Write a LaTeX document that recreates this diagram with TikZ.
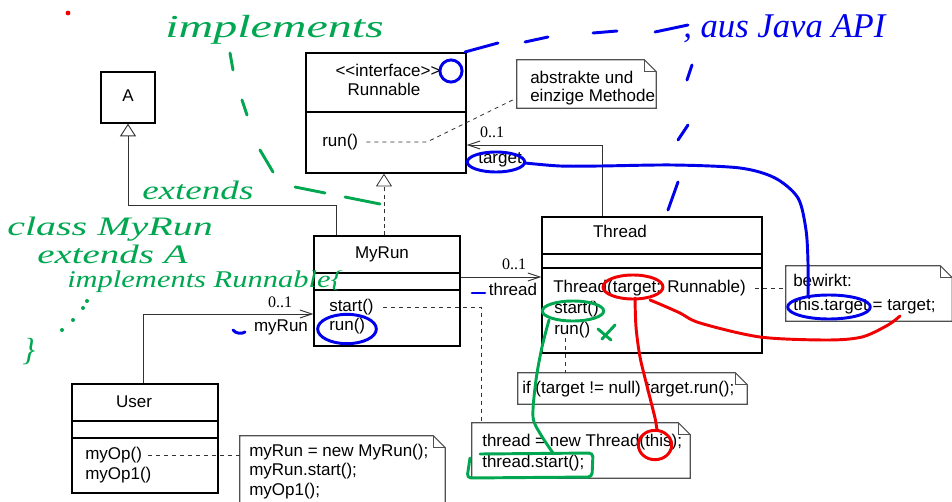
\documentclass[tikz,border=0pt]{standalone}
\usepackage{fontspec}
\setmainfont{Liberation Sans}
\newfontfamily\numfont{Liberation Serif}
\newfontfamily\handfont{Liberation Serif}
\usetikzlibrary{fit,arrows.meta,calc}
\definecolor{penGreen}{RGB}{0,166,80}
\definecolor{penBlue}{RGB}{0,0,235}
\definecolor{penRed}{RGB}{240,0,0}
\definecolor{umlLine}{RGB}{50,50,50}
\definecolor{noteLine}{RGB}{80,80,80}

% note with a folded corner, drawn around a fitted node
\newcommand{\notefold}[1]{%
  \draw[noteframe] (#1.north west) -- ([xshift=-9pt]#1.north east)
    -- ([yshift=-9pt]#1.north east) -- (#1.south east) -- (#1.south west) -- cycle;
  \draw[noteframe] ([xshift=-9pt]#1.north east) |- ([yshift=-9pt]#1.north east);}

\begin{document}
\begin{tikzpicture}[x=0.75pt,y=-0.75pt,
  every node/.style={inner sep=0pt},
  cls/.style={draw=black, line width=1pt, fill=white},
  divider/.style={draw=black, line width=1pt},
  ghost/.style={draw=none},
  noteframe/.style={draw=noteLine, line width=0.8pt},
  lbl/.style={font=\fontsize{12.75}{15}\selectfont, text height=9.2pt, text depth=2.7pt},
  mult/.style={font=\numfont\fontsize{12}{14}\selectfont},
  assoc/.style={draw=umlLine, line width=0.7pt, -{Straight Barb[length=9pt,width=6pt]}},
  inherit/.style={draw=umlLine, line width=0.7pt, -{Triangle[open,length=9.5pt,width=12pt]}},
  dashline/.style={draw=umlLine, line width=0.6pt, dash pattern=on 3pt off 3pt},
  pen/.style={line width=2.2pt, line cap=round, line join=round},
  hw/.style={font=\handfont\itshape, anchor=base west},
]
\useasboundingbox (0,0) rectangle (952,502);
\clip (0,0) rectangle (952,502);

% ---------- classes ----------
\coordinate (a1) at (101,72);  \coordinate (a2) at (155,123);
\node[cls, fit=(a1)(a2)] (A) {};
\node[lbl] (Aname) at (A.center) {A};

\coordinate (r1) at (306,53);  \coordinate (r2) at (466,173);
\node[cls, fit=(r1)(r2)] (Run) {};
\draw[divider] (Run.west |- 0,112) -- (Run.east |- 0,112);
\node[lbl] (stereo) at (388,72) {{<}{<}interface{>}{>}};
\node[lbl] (runname) at (384,91) {Runnable};
\node[lbl, anchor=west] (runR) at (322,142) {run()};

\coordinate (m1) at (314,236); \coordinate (m2) at (460,346);
\node[cls, fit=(m1)(m2)] (MyRun) {};
\draw[divider] (MyRun.west |- 0,273) -- (MyRun.east |- 0,273);
\draw[divider] (MyRun.west |- 0,290) -- (MyRun.east |- 0,290);
\node[lbl] (myrunname) at (382,254) {MyRun};
\node[lbl, anchor=west] (mstart) at (329,307) {start()};
\node[lbl, anchor=west] (mrun) at (329,326) {run()};

\coordinate (u1) at (72,384);  \coordinate (u2) at (218,493);
\node[cls, fit=(u1)(u2)] (User) {};
\draw[divider] (User.west |- 0,421) -- (User.east |- 0,421);
\draw[divider] (User.west |- 0,438) -- (User.east |- 0,438);
\node[lbl] (username) at (134,403) {User};
\node[lbl, anchor=west] (myOp) at (85,455) {myOp()};
\node[lbl, anchor=west] (myOpOne) at (85,475) {myOp1()};

\coordinate (t1) at (542,217); \coordinate (t2) at (762,353);
\node[cls, fit=(t1)(t2)] (Thread) {};
\draw[divider] (Thread.west |- 0,254) -- (Thread.east |- 0,254);
\draw[divider] (Thread.west |- 0,268) -- (Thread.east |- 0,268);
\node[lbl] (threadname) at (620,233) {Thread};
\node[lbl, anchor=west] (ctor) at (553,288) {Thread(target: Runnable)};
\node[lbl, anchor=west] (tstart) at (554,309) {start()};
\node[lbl, anchor=west] (trun) at (554,330) {run()};

% ---------- notes ----------
\coordinate (n1a) at (517,60);  \coordinate (n1b) at (656,108);
\node[ghost, fit=(n1a)(n1b)] (NoteAbs) {};
\notefold{NoteAbs}
\node[lbl, anchor=west] (absA) at (530,79) {abstrakte und};
\node[lbl, anchor=west] (absB) at (530,97) {einzige Methode};

\coordinate (n2a) at (240,436); \coordinate (n2b) at (445,515);
\node[ghost, fit=(n2a)(n2b)] (NoteUser) {};
\notefold{NoteUser}
\node[lbl, anchor=west] (codeA) at (249,452) {myRun = new MyRun();};
\node[lbl, anchor=west] (codeB) at (249,471) {myRun.start();};
\node[lbl, anchor=west] (codeC) at (249,491) {myOp1();};

\coordinate (n3a) at (786,266); \coordinate (n3b) at (952,321);
\node[ghost, fit=(n3a)(n3b)] (NoteBew) {};
\notefold{NoteBew}
\node[lbl, anchor=west] (bewA) at (793,282) {bewirkt:};
\node[lbl, anchor=west] (bewB) at (793,306) {this.target = target;};

\coordinate (n4a) at (518,373); \coordinate (n4b) at (747,404);
\node[ghost, fit=(n4a)(n4b)] (NoteIf) {};
\notefold{NoteIf}
\node[lbl, anchor=west] (ifline) at (522,389) {if (target != null) target.run();};

\coordinate (n5a) at (472,423); \coordinate (n5b) at (690,478);
\node[ghost, fit=(n5a)(n5b)] (NoteNew) {};
\notefold{NoteNew}
\node[lbl, anchor=west] (newA) at (482,442) {thread = new Thread(this);};
\node[lbl, anchor=west] (newB) at (482,463) {thread.start();};

% ---------- connectors ----------
\draw[inherit] (MyRun.north -| 336,0) |- (A.south |- 0,205) -- (A.south);
\draw[dashline, -{Triangle[open,length=9.5pt,width=12pt]}, dash pattern=on 3pt off 2.5pt]
  (MyRun.north -| 384,0) -- (Run.south -| 384,0);
\draw[assoc] (Thread.north -| 602,0) |- (Run.east |- 0,145);
\node[mult] (mTarget) at (492,132) {0..1};
\node[lbl, anchor=west] (rTarget) at (478,159) {target};

\draw[assoc] (MyRun.east |- 0,277) -- (Thread.west |- 0,277);
\node[mult] (mThread) at (514,264) {0..1};
\node[lbl] (rThread) at (513,291) {thread};

\draw[assoc] (User.north -| 143,0) |- (MyRun.west |- 0,314);
\node[mult] (mMyRun) at (280,302) {0..1};
\node[lbl] (rMyRun) at (281,327) {myRun};

\draw[dashline] ([xshift=6pt]runR.east) -- (427,142) -- (NoteAbs.west |- 0,98);
\draw[dashline] ([xshift=4pt]myOp.east) -- (NoteUser.west |- myOp);
\draw[dashline] ([xshift=7pt]ctor.east) -- (NoteBew.west |- ctor);
\draw[dashline] (trun.south -| 565,0) -- (NoteIf.north -| 565,0);
\draw[dashline] ([xshift=7pt]mstart.east) -- (mstart.east -| 481,0) -- (NoteNew.north -| 481,0);

% ---------- green pen ----------
\begin{scope}[penGreen]
\node[hw, penGreen] (hwImpl) at (165,38) {\scalebox{1.5}[1]{\fontsize{24}{24}\selectfont implements}};
\node[hw, penGreen] (hwExt) at (142,200) {\scalebox{1.39}[1]{\fontsize{20}{20}\selectfont extends}};
\node[hw, penGreen] (hwClass) at (7,235) {\scalebox{1.5}[1]{\fontsize{20}{20}\selectfont class MyRun}};
\node[hw, penGreen] (hwExtA) at (37,263) {\scalebox{1.46}[1]{\fontsize{20}{20}\selectfont extends A}};
\node[hw, penGreen] (hwImplR) at (67,287) {\scalebox{1.27}[1]{\fontsize{18}{18}\selectfont implements Runnable\{}};
\node[hw, penGreen] (hwClose) at (22,360) {\fontsize{24}{24}\selectfont \}};
\fill (62,330) circle (1.5pt) (73,320) circle (1.5pt) (83,308) circle (1.5pt) (87,301) circle (1.5pt);
\draw[pen] (230,53) -- (233,70);
\draw[pen] (242,100) -- (247,115);
\draw[pen] (260,150) -- (273,172);
\draw[pen] (295,187) -- (325,193);
\draw[pen] (345,197) -- (380,204);
\draw[pen] (573,311) ellipse [x radius=23pt, y radius=7.5pt];
\draw[pen] plot[smooth] coordinates {(549,320) (542,347) (536,380) (533,417) (541,435) (553,453)};
\draw[pen, rounded corners=3pt] (480,454) -- (593,453) -- (592,477) -- (467,478) -- (470,458);
\draw[pen] (598,329) -- (611,340);
\draw[pen] (615,325) -- (602,339);
\end{scope}

% ---------- blue pen ----------
\begin{scope}[penBlue]
\draw[pen] (465,52) -- (498,43);
\draw[pen] (525,42) -- (548,37);
\draw[pen] (593,33) -- (617,31);
\draw[pen] (655,32) -- (688,25);
\draw[pen] (692,65) -- (687,80);
\draw[pen] (688,125) -- (678,140);
\draw[pen] (678,182) -- (668,210);
\node[hw, penBlue] (hwApi) at (683,38) {\fontsize{26}{26}\selectfont , aus Java API};
\draw[pen] (451,71) circle (8.3pt);
\draw[pen] (496,162) ellipse [x radius=21.5pt, y radius=7.5pt];
\draw[pen] plot[smooth] coordinates {(525,163) (560,166) (600,166) (673,165) (740,168) (775,178) (798,198) (806,230) (808,263) (808,296)};
\draw[pen] (829,307) ellipse [x radius=31pt, y radius=9pt];
\draw[pen] (347,329) ellipse [x radius=22pt, y radius=11pt];
\draw[pen] (233,330) .. controls (236,334) and (242,334) .. (245,332);
\draw[pen] (472,293) -- (485,293);
\end{scope}

% ---------- red pen ----------
\begin{scope}[penRed]
\fill (68,13) circle (1.8pt);
\draw[pen] (633,287) ellipse [x radius=22.5pt, y radius=9pt];
\draw[pen] plot[smooth] coordinates {(635,298) (636,327) (640,357) (648,390) (655,418) (657,430)};
\draw[pen] (655,445) ellipse [x radius=12.5pt, y radius=11pt];
\draw[pen] plot[smooth] coordinates {(650,300) (662,305) (680,313) (700,323) (760,337) (827,340) (862,337) (888,325) (900,316)};
\end{scope}
\end{tikzpicture}
\end{document}
